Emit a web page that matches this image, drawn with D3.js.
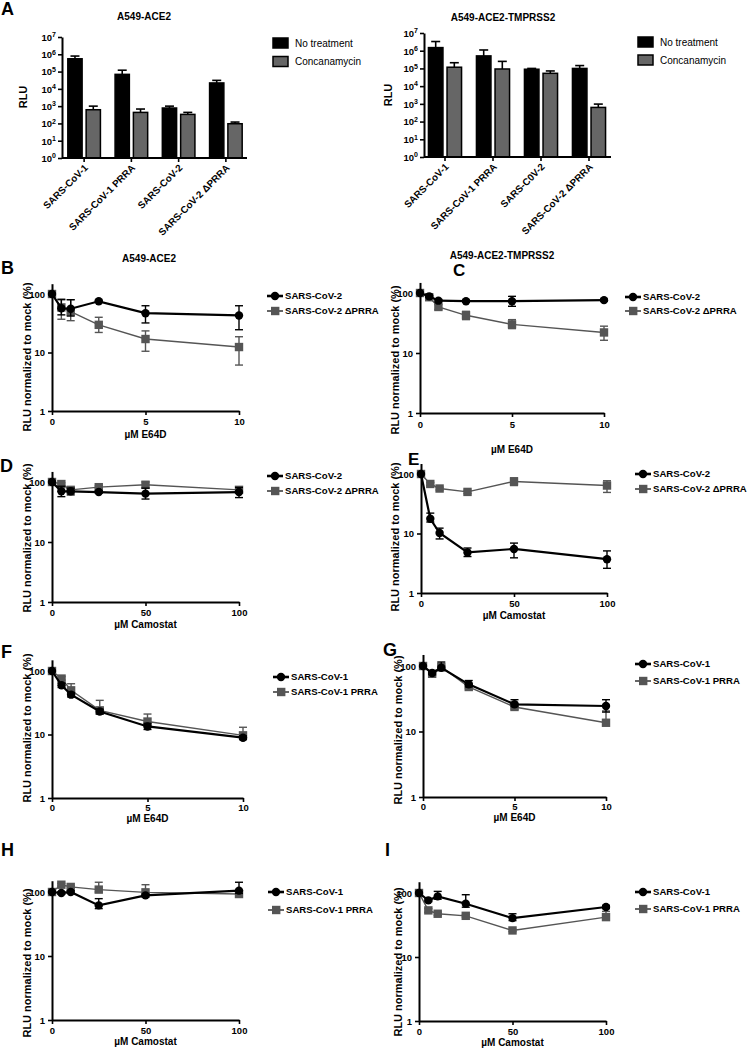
<!DOCTYPE html>
<html><head><meta charset="utf-8">
<script src="https://cdn.jsdelivr.net/npm/d3@7"></script>
<style>
body{margin:0;background:#fff;}
svg text{font-family:"Liberation Sans",Arial,Helvetica,sans-serif;fill:#000;}
</style></head><body>
<svg id="fig" width="748" height="1049"></svg>
<script>
// ---------------- DATA ----------------
const barSeries = ["No treatment", "Concanamycin"];
const barCategoriesLeft = ["SARS-CoV-1", "SARS-CoV-1 PRRA", "SARS-CoV-2", "SARS-CoV-2 \u0394PRRA"];
const barCategoriesRight = ["SARS-CoV-1", "SARS-CoV-1 PRRA", "SARS-C0V-2", "SARS-CoV-2 \u0394PRRA"];
const barYTicks = [1, 10, 100, 1e3, 1e4, 1e5, 1e6, 1e7];

const aLeftNoTreat = [5.5e5, 6.9e4, 780, 2.2e4];
const aLeftNoTreatHi = [7.9e5, 1.2e5, 1000, 3.1e4];
const aLeftConc = [620, 435, 333, 96];
const aLeftConcHi = [1000, 680, 435, 120];

const aRightNoTreat = [1.5e6, 5.1e5, 9.0e4, 1.0e5];
const aRightNoTreatHi = [3.3e6, 1.1e6, 1.0e5, 1.45e5];
const aRightConc = [1.17e5, 9.3e4, 5.3e4, 630];
const aRightConcHi = [2.1e5, 2.5e5, 7.2e4, 970];

const e64dDoses = [0, 0.5, 1, 2.5, 5, 10];
const camostatDoses = [0, 5, 10, 25, 50, 100];
const e64dTicks = [0, 5, 10];
const camostatTicks = [0, 50, 100];
const normTicks = [1, 10, 100];

// B
const bCoV2 = [100, 57, 56, 75, 47, 43];
const bCoV2Lo = [100, 44, 42, 72, 32, 24.5];
const bCoV2Hi = [100, 80, 80, 78, 63, 63];
const bDPRRA = [100, 59, 50, 29.7, 17, 12.4];
const bDPRRALo = [100, 37, 35, 22, 10.5, 6.1];
const bDPRRAHi = [100, 82, 80, 40, 23.4, 18.6];
// C
const cCoV2 = [100, 88, 74.5, 73, 73, 76];
const cCoV2Lo = [100, 84, 71, 70, 60, 73];
const cCoV2Hi = [100, 92, 78, 76, 88, 79];
const cDPRRA = [100, 85, 58.5, 42.5, 30, 22];
const cDPRRALo = [100, 80, 53, 36, 25.5, 16.3];
const cDPRRAHi = [100, 90, 64, 49.5, 36, 28];
// D
const dCoV2 = [100, 70, 70, 68, 64, 68];
const dCoV2Lo = [100, 57, 61, 65, 52, 55];
const dCoV2Hi = [100, 85, 79, 72, 79, 81];
const dDPRRA = [100, 92.5, 74, 82, 90, 74];
const dDPRRALo = [100, 88, 70, 78, 80, 65];
const dDPRRAHi = [100, 97, 78, 86, 100, 83];
// E
const eCoV2 = [100, 17.7, 10.2, 4.8, 5.5, 3.7];
const eCoV2Lo = [100, 15.6, 8.1, 4.1, 3.9, 2.6];
const eCoV2Hi = [100, 22, 12.3, 5.7, 6.9, 5.1];
const eDPRRA = [100, 68, 57, 50, 75, 64];
const eDPRRALo = [100, 64, 54, 47, 64, 49];
const eDPRRAHi = [100, 72, 60, 53, 86, 77];
// F
const fCoV1 = [100, 59.5, 42.4, 23, 13.4, 8.9];
const fCoV1Lo = [100, 55, 39, 21, 12, 8.3];
const fCoV1Hi = [100, 64, 46, 25, 15, 9.5];
const fPRRA = [100, 76, 49.6, 24, 16, 9.7];
const fPRRALo = [100, 72, 45, 22, 14.5, 9];
const fPRRAHi = [100, 82, 63, 34.5, 21, 13];
// G
const gCoV1 = [100, 78, 94, 52.5, 26, 24.5];
const gCoV1Lo = [100, 74, 85, 48, 24, 19.8];
const gCoV1Hi = [100, 82, 115, 60, 30.6, 30.6];
const gPRRA = [100, 76, 96.6, 47.8, 23.7, 13.6];
const gPRRALo = [100, 72, 92, 45, 22, 12.5];
const gPRRAHi = [100, 80, 101, 51, 25.5, 20.6];
// H
const hCoV1 = [100, 96.4, 100, 61.8, 88.6, 105];
const hCoV1Lo = [100, 92, 96, 55, 83, 95];
const hCoV1Hi = [100, 101, 104, 78.7, 93, 142];
const hPRRA = [100, 130, 120, 109, 98.8, 93];
const hPRRALo = [100, 124, 115, 100, 90, 88];
const hPRRAHi = [100, 136, 125, 142, 130, 98];
// I
const iCoV1 = [100, 76.8, 88.6, 68, 40.5, 60.4];
const iCoV1Lo = [100, 73, 80, 60, 37, 57];
const iCoV1Hi = [100, 81, 106, 94, 47.4, 64];
const iPRRA = [100, 53.5, 47.4, 44, 26, 42];
const iPRRALo = [100, 50, 45, 42, 25, 38];
const iPRRAHi = [100, 57, 50, 46, 27, 51.6];

// ---------------- DRAWING ----------------
const svg = d3.select("#fig");
const GRAY = "#555555";
const BARGRAY = "#666666";
const YMAX = 150;

function styleAxis(g) {
  g.select(".domain").attr("stroke", "#000").attr("stroke-width", 2);
  g.selectAll(".tick line").attr("stroke", "#000").attr("stroke-width", 1.6);
  g.selectAll(".tick text").attr("font-weight", "bold").attr("font-size", "9.5px")
    .attr("font-family", '"Liberation Sans",Arial,sans-serif').attr("fill", "#000");
}

function panelLetter(letter, x, y, size) {
  svg.append("text").attr("x", x).attr("y", y).attr("font-size", (size || 18) + "px")
    .attr("font-weight", "bold").text(letter);
}
function title(t, x, y) {
  svg.append("text").attr("x", x).attr("y", y).attr("text-anchor", "middle")
    .attr("font-size", "10px").attr("font-weight", "bold").text(t);
}

function barPanel(cfg) {
  const g = svg.append("g");
  const x0 = d3.scaleBand().domain(cfg.categories).range(cfg.bandRange).paddingInner(0);
  const x1 = d3.scaleBand().domain(barSeries).range([0, x0.bandwidth()])
    .paddingInner(0.22).paddingOuter(0.4);
  const y = d3.scaleLog().domain([1, 1e7]).range([cfg.bottom, cfg.top]);
  const series = [
    {name: barSeries[0], vals: cfg.noTreat, hi: cfg.noTreatHi, fill: "#000"},
    {name: barSeries[1], vals: cfg.conc, hi: cfg.concHi, fill: BARGRAY}
  ];
  series.forEach(s => {
    cfg.categories.forEach((c, i) => {
      const bx = x0(c) + x1(s.name);
      const cx = bx + x1.bandwidth() / 2;
      g.append("line").attr("x1", cx).attr("x2", cx).attr("y1", y(s.vals[i])).attr("y2", y(s.hi[i]))
        .attr("stroke", "#000").attr("stroke-width", 1.6);
      g.append("line").attr("x1", cx - 4.5).attr("x2", cx + 4.5).attr("y1", y(s.hi[i])).attr("y2", y(s.hi[i]))
        .attr("stroke", "#000").attr("stroke-width", 1.6);
      g.append("rect").attr("x", bx).attr("width", x1.bandwidth())
        .attr("y", y(s.vals[i])).attr("height", y(1) - y(s.vals[i]))
        .attr("fill", s.fill).attr("stroke", "#000").attr("stroke-width", 1.5);
    });
  });
  const ya = g.append("g").attr("transform", `translate(${cfg.axisLeft},0)`)
    .call(d3.axisLeft(y).tickValues(barYTicks).tickSize(4).tickSizeOuter(0).tickFormat(""));
  styleAxis(ya);
  ya.selectAll(".tick").each(function(d) {
    const t = d3.select(this).append("text").attr("x", -6).attr("dy", "0.35em")
      .attr("text-anchor", "end").attr("font-weight", "bold").attr("font-size", "9.5px");
    t.append("tspan").text("10");
    t.append("tspan").attr("dy", "-0.5em").attr("font-size", "7px").text(Math.round(Math.log10(d)));
  });
  g.append("line").attr("x1", cfg.axisLeft).attr("x2", cfg.axisRight).attr("y1", cfg.bottom).attr("y2", cfg.bottom)
    .attr("stroke", "#000").attr("stroke-width", 2);
  cfg.categories.forEach(c => {
    const cx = x0(c) + x0.bandwidth() / 2;
    g.append("line").attr("x1", cx).attr("x2", cx).attr("y1", cfg.bottom).attr("y2", cfg.bottom + 4)
      .attr("stroke", "#000").attr("stroke-width", 1.6);
    g.append("text").attr("transform", `translate(${cx + 2},${cfg.bottom + 8}) rotate(-45)`)
      .attr("text-anchor", "end").attr("dy", "0.35em").attr("font-weight", "bold").attr("font-size", "9.8px")
      .text(c);
  });
  g.append("text").attr("transform", `translate(${cfg.ylabelX},${cfg.ylabelY}) rotate(-90)`)
    .attr("text-anchor", "middle").attr("font-weight", "bold").attr("font-size", "11px").text("RLU");
  series.forEach((s, i) => {
    const ly = cfg.legendY[i];
    g.append("rect").attr("x", cfg.legendX).attr("y", ly - 5).attr("width", 15).attr("height", 10)
      .attr("fill", s.fill).attr("stroke", "#000").attr("stroke-width", 1.5);
    g.append("text").attr("x", cfg.legendX + 22).attr("y", ly).attr("dy", "0.35em")
      .attr("font-size", "10px").text(s.name);
  });
}

function linePanel(cfg) {
  const g = svg.append("g");
  const x = d3.scaleLinear().domain([0, cfg.xTicks[cfg.xTicks.length - 1]]).range([cfg.left, cfg.right]);
  const y = d3.scaleLog().domain([1, YMAX]).range([cfg.bottom, cfg.bottom - Math.log10(YMAX) * cfg.decade]);
  const ser = [
    {name: cfg.names[1], v: cfg.s2, lo: cfg.s2Lo, hi: cfg.s2Hi, color: GRAY, lw: 1.4, shape: "square"},
    {name: cfg.names[0], v: cfg.s1, lo: cfg.s1Lo, hi: cfg.s1Hi, color: "#000", lw: 2.2, shape: "circle"}
  ];
  ser.forEach(s => {
    const pts = cfg.doses.map((d, i) => ({x: d, v: s.v[i], lo: s.lo[i], hi: s.hi[i]}));
    g.append("path").datum(pts)
      .attr("d", d3.line().x(p => x(p.x)).y(p => y(p.v)))
      .attr("fill", "none").attr("stroke", s.color).attr("stroke-width", s.lw);
    pts.forEach(p => {
      if (p.hi !== p.lo) {
        const cx = x(p.x);
        g.append("line").attr("x1", cx).attr("x2", cx).attr("y1", y(p.lo)).attr("y2", y(p.hi))
          .attr("stroke", s.color).attr("stroke-width", 1.4);
        [p.lo, p.hi].forEach(e => g.append("line").attr("x1", cx - 4).attr("x2", cx + 4)
          .attr("y1", y(e)).attr("y2", y(e)).attr("stroke", s.color).attr("stroke-width", 1.4));
      }
      if (s.shape === "circle") {
        g.append("circle").attr("cx", x(p.x)).attr("cy", y(p.v)).attr("r", 4.2).attr("fill", "#000");
      } else {
        g.append("rect").attr("x", x(p.x) - 4.2).attr("y", y(p.v) - 4.2).attr("width", 8.4).attr("height", 8.4)
          .attr("fill", GRAY);
      }
    });
  });
  const ya = g.append("g").attr("transform", `translate(${cfg.left},0)`)
    .call(d3.axisLeft(y).tickValues(normTicks).tickSize(4).tickSizeOuter(0).tickFormat(d3.format("d")));
  styleAxis(ya);
  const xa = g.append("g").attr("transform", `translate(0,${cfg.bottom})`)
    .call(d3.axisBottom(x).tickValues(cfg.xTicks).tickSize(4).tickSizeOuter(0).tickFormat(d3.format("d")));
  styleAxis(xa);
  xa.selectAll(".tick text").attr("y", 0).attr("dy", 0).attr("transform", `translate(0,${cfg.tickBase})`);
  g.append("text").attr("x", (cfg.left + cfg.right) / 2).attr("y", cfg.bottom + cfg.xlabelBase)
    .attr("text-anchor", "middle").attr("font-weight", "bold").attr("font-size", "10px").text(cfg.xlabel);
  g.append("text").attr("transform", `translate(${cfg.ylabelX},${cfg.ylabelY}) rotate(-90)`)
    .attr("text-anchor", "middle").attr("dy", "0.35em").attr("font-weight", "bold").attr("font-size", "11px")
    .text("RLU normalized to mock (%)");
  const legOrder = [ser[1], ser[0]];
  legOrder.forEach((s, i) => {
    const ly = cfg.legendY[i];
    const lx = cfg.legendX;
    g.append("line").attr("x1", lx).attr("x2", lx + 16).attr("y1", ly).attr("y2", ly)
      .attr("stroke", s.color).attr("stroke-width", s.lw + 0.4);
    if (s.shape === "circle") g.append("circle").attr("cx", lx + 8).attr("cy", ly).attr("r", 4.2).attr("fill", "#000");
    else g.append("rect").attr("x", lx + 4).attr("y", ly - 4.2).attr("width", 8.4).attr("height", 8.4).attr("fill", GRAY);
    g.append("text").attr("x", lx + 18).attr("y", ly).attr("dy", "0.35em")
      .attr("font-weight", "bold").attr("font-size", "9.6px").text(s.name);
  });
}

// ---- Panel A ----
panelLetter("A", 1, 15);
title("A549-ACE2", 144, 20);
title("A549-ACE2-TMPRSS2", 503, 21);
barPanel({categories: barCategoriesLeft, noTreat: aLeftNoTreat, noTreatHi: aLeftNoTreatHi,
  conc: aLeftConc, concHi: aLeftConcHi, bandRange: [60.5, 249.5], axisLeft: 62, axisRight: 247,
  top: 37, bottom: 158, ylabelX: 27, ylabelY: 97, legendX: 273, legendY: [43, 61.5]});
barPanel({categories: barCategoriesRight, noTreat: aRightNoTreat, noTreatHi: aRightNoTreatHi,
  conc: aRightConc, concHi: aRightConcHi, bandRange: [421, 613], axisLeft: 424, axisRight: 611,
  top: 33, bottom: 157, ylabelX: 391.5, ylabelY: 95, legendX: 638, legendY: [42, 60]});

// ---- Line panels ----
const sars2Names = ["SARS-CoV-2", "SARS-CoV-2 \u0394PRRA"];
const sars1Names = ["SARS-CoV-1", "SARS-CoV-1 PRRA"];

panelLetter("B", 1, 274);
title("A549-ACE2", 149, 262);
linePanel({doses: e64dDoses, xTicks: e64dTicks, names: sars2Names,
  s1: bCoV2, s1Lo: bCoV2Lo, s1Hi: bCoV2Hi, s2: bDPRRA, s2Lo: bDPRRALo, s2Hi: bDPRRAHi,
  left: 52, right: 239, bottom: 411, decade: 58.5, tickBase: 14, xlabelBase: 27, xlabel: "\u00b5M E64D",
  ylabelX: 27, ylabelY: 357, legendX: 267, legendY: [296, 311]});

panelLetter("C", 453, 275.5, 17);
title("A549-ACE2-TMPRSS2", 502, 259);
linePanel({doses: e64dDoses, xTicks: e64dTicks, names: sars2Names,
  s1: cCoV2, s1Lo: cCoV2Lo, s1Hi: cCoV2Hi, s2: cDPRRA, s2Lo: cDPRRALo, s2Hi: cDPRRAHi,
  left: 420, right: 604, bottom: 413, decade: 60, tickBase: 15, xlabelBase: 40, xlabel: "\u00b5M E64D",
  ylabelX: 395, ylabelY: 360, legendX: 625, legendY: [297, 311]});

panelLetter("D", 0, 472);
linePanel({doses: camostatDoses, xTicks: camostatTicks, names: sars2Names,
  s1: dCoV2, s1Lo: dCoV2Lo, s1Hi: dCoV2Hi, s2: dDPRRA, s2Lo: dDPRRALo, s2Hi: dDPRRAHi,
  left: 52, right: 239, bottom: 602, decade: 60, tickBase: 13.5, xlabelBase: 25.5, xlabel: "\u00b5M Camostat",
  ylabelX: 27, ylabelY: 538, legendX: 267, legendY: [476, 491]});

panelLetter("E", 408, 465, 17);
linePanel({doses: camostatDoses, xTicks: camostatTicks, names: sars2Names,
  s1: eCoV2, s1Lo: eCoV2Lo, s1Hi: eCoV2Hi, s2: eDPRRA, s2Lo: eDPRRALo, s2Hi: eDPRRAHi,
  left: 421, right: 607, bottom: 593, decade: 59.5, tickBase: 14, xlabelBase: 26, xlabel: "\u00b5M Camostat",
  ylabelX: 395, ylabelY: 537, legendX: 635, legendY: [474, 489]});

panelLetter("F", 1, 658);
linePanel({doses: e64dDoses, xTicks: e64dTicks, names: sars1Names,
  s1: fCoV1, s1Lo: fCoV1Lo, s1Hi: fCoV1Hi, s2: fPRRA, s2Lo: fPRRALo, s2Hi: fPRRAHi,
  left: 52, right: 243, bottom: 798, decade: 63.5, tickBase: 12.5, xlabelBase: 23.5, xlabel: "\u00b5M E64D",
  ylabelX: 27, ylabelY: 728, legendX: 273, legendY: [677, 692]});

panelLetter("G", 383, 656);
linePanel({doses: e64dDoses, xTicks: e64dTicks, names: sars1Names,
  s1: gCoV1, s1Lo: gCoV1Lo, s1Hi: gCoV1Hi, s2: gPRRA, s2Lo: gPRRALo, s2Hi: gPRRAHi,
  left: 423, right: 606, bottom: 797, decade: 65.5, tickBase: 13, xlabelBase: 24, xlabel: "\u00b5M E64D",
  ylabelX: 398, ylabelY: 730, legendX: 635, legendY: [664, 681]});

panelLetter("H", 1, 856);
linePanel({doses: camostatDoses, xTicks: camostatTicks, names: sars1Names,
  s1: hCoV1, s1Lo: hCoV1Lo, s1Hi: hCoV1Hi, s2: hPRRA, s2Lo: hPRRALo, s2Hi: hPRRAHi,
  left: 52, right: 239, bottom: 1020, decade: 64, tickBase: 14, xlabelBase: 25, xlabel: "\u00b5M Camostat",
  ylabelX: 27, ylabelY: 963, legendX: 268, legendY: [892, 910]});

panelLetter("I", 385, 856);
linePanel({doses: camostatDoses, xTicks: camostatTicks, names: sars1Names,
  s1: iCoV1, s1Lo: iCoV1Lo, s1Hi: iCoV1Hi, s2: iPRRA, s2Lo: iPRRALo, s2Hi: iPRRAHi,
  left: 419, right: 606, bottom: 1021, decade: 64, tickBase: 14, xlabelBase: 25, xlabel: "\u00b5M Camostat",
  ylabelX: 398, ylabelY: 962, legendX: 635, legendY: [892, 909]});
</script>
</body></html>
